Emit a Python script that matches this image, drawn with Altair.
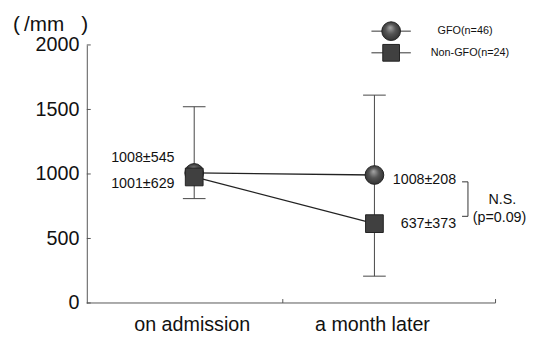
import altair as alt
import pandas as pd

# ---- data ----
categories = ["on admission", "a month later"]
cat_index = [0, 1]
gfo_mean = [1008, 992]
nongfo_mean = [977, 615]
err_upper = [1521, 1611]
err_lower = [809, 208]
gfo_labels = ["1008±545", "1008±208"]
nongfo_labels = ["1001±629", "637±373"]
y_ticks = [0, 500, 1000, 1500, 2000]

FONT = "Liberation Sans"
W, H = 415, 262

df = pd.DataFrame({
    "idx": cat_index,
    "cat": categories,
    "gfo": gfo_mean,
    "non": nongfo_mean,
    "hi": err_upper,
    "lo": err_lower,
    "gfo_lab": gfo_labels,
    "non_lab": nongfo_labels,
})
long = pd.concat([
    pd.DataFrame({"idx": cat_index, "v": gfo_mean, "g": "GFO"}),
    pd.DataFrame({"idx": cat_index, "v": nongfo_mean, "g": "Non-GFO"}),
])

xs = alt.Scale(domain=[-0.596, 1.672])
ys = alt.Scale(domain=[0, 2000])
X = alt.X("idx:Q", scale=xs, axis=None)

base = alt.Chart(df)

yaxis = alt.Chart(pd.DataFrame({"t": y_ticks})).mark_rule(color="#555", strokeWidth=1).encode(
    y=alt.Y("t:Q", scale=ys, axis=alt.Axis(values=y_ticks, format="d", ticks=False, grid=False, domain=True,
                                            domainColor="#555", labelFont=FONT, labelFontSize=20,
                                            labelColor="#111", labelPadding=8, title=None)),
    x=alt.value(0), x2=alt.value(4),
)

one = alt.Data(values=[{"a": 1}])
xaxis_line = alt.Chart(one).mark_rule(color="#555").encode(x=alt.value(0), x2=alt.value(W), y=alt.value(H))
xtick_mid = alt.Chart(one).mark_rule(color="#555").encode(x=alt.value(199), y=alt.value(H - 4), y2=alt.value(H))
xtick_end = alt.Chart(one).mark_rule(color="#555").encode(x=alt.value(W), y=alt.value(H - 4), y2=alt.value(H))

cat_labels = base.mark_text(font=FONT, fontSize=20, baseline="alphabetic", color="#111", dx=-2).encode(
    x=X, y=alt.value(290), text="cat:N")

errbar = base.mark_rule(color="#444", strokeWidth=1).encode(
    x=X, y=alt.Y("lo:Q", scale=ys), y2="hi:Q")
cap_shape = "M-1,0L1,0"
cap_hi = base.mark_point(shape=cap_shape, size=529, filled=False, stroke="#444", strokeWidth=1, opacity=1).encode(
    x=X, y=alt.Y("hi:Q", scale=ys))
cap_lo = base.mark_point(shape=cap_shape, size=529, filled=False, stroke="#444", strokeWidth=1, opacity=1).encode(
    x=X, y=alt.Y("lo:Q", scale=ys))

lines = alt.Chart(long).mark_line(color="#222", strokeWidth=1.3).encode(
    x=X, y=alt.Y("v:Q", scale=ys), detail="g:N")

grad = {
    "gradient": "radial",
    "x1": 0.45, "y1": 0.3, "r1": 0.0,
    "x2": 0.5, "y2": 0.5, "r2": 0.6,
    "stops": [
        {"offset": 0.0, "color": "#a8a8a8"},
        {"offset": 0.45, "color": "#555555"},
        {"offset": 1.0, "color": "#2a2a2a"},
    ],
}
circles = base.mark_point(shape="circle", size=361, filled=True, fill=grad, stroke="#222",
                          strokeWidth=1, opacity=1).encode(x=X, y=alt.Y("gfo:Q", scale=ys))
squares = base.mark_point(shape="square", size=324, filled=True, fill="#404040", stroke="#222",
                          strokeWidth=1, opacity=1).encode(x=X, y=alt.Y("non:Q", scale=ys))

def vlabel(idx, field, text_field, align, dx, dy):
    return base.transform_filter(alt.datum.idx == idx).mark_text(
        font=FONT, fontSize=14.5, align=align, baseline="middle", dx=dx, dy=dy, color="#111"
    ).encode(x=X, y=alt.Y(f"{field}:Q", scale=ys), text=f"{text_field}:N")

lab1 = vlabel(0, "gfo", "gfo_lab", "right", -20, -15)
lab2 = vlabel(0, "non", "non_lab", "right", -20, 7)
lab3 = vlabel(1, "gfo", "gfo_lab", "right", 83, 5)
lab4 = vlabel(1, "non", "non_lab", "right", 83, 0)

# significance bracket
br_v = alt.Chart(one).mark_rule(color="#333").encode(x=alt.value(387), y=alt.value(139), y2=alt.value(174))
br_t = alt.Chart(one).mark_rule(color="#333").encode(x=alt.value(381), x2=alt.value(387), y=alt.value(139))
br_b = alt.Chart(one).mark_rule(color="#333").encode(x=alt.value(381), x2=alt.value(387), y=alt.value(174))
ns_txt = alt.Chart(one).mark_text(font=FONT, fontSize=14.5, align="center", baseline="middle", color="#111").encode(
    x=alt.value(422), y=alt.value(157), text=alt.value("N.S."))
p_txt = alt.Chart(one).mark_text(font=FONT, fontSize=14.5, align="center", baseline="middle", color="#111").encode(
    x=alt.value(419), y=alt.value(176), text=alt.value("(p=0.09)"))

# unit title
unit = alt.Chart(one).mark_text(font=FONT, fontSize=21, align="left", baseline="alphabetic", color="#111").encode(
    x=alt.value(-75), y=alt.value(-14), text=alt.value("(\u2009/mm\u00a0\u00a0\u00a0)"))

# legend
leg_l1 = alt.Chart(one).mark_rule(color="#333").encode(x=alt.value(289), x2=alt.value(329), y=alt.value(-14))
leg_l2 = alt.Chart(one).mark_rule(color="#333").encode(x=alt.value(289), x2=alt.value(329), y=alt.value(8))
leg_c = alt.Chart(one).mark_point(shape="circle", size=361, filled=True, fill=grad, stroke="#222",
                                  strokeWidth=1, opacity=1).encode(x=alt.value(309), y=alt.value(-14))
leg_s = alt.Chart(one).mark_point(shape="square", size=289, filled=True, fill="#404040", stroke="#222",
                                  strokeWidth=1, opacity=1).encode(x=alt.value(309), y=alt.value(8))
leg_t1 = alt.Chart(one).mark_text(font=FONT, fontSize=11, align="center", baseline="middle", color="#111").encode(
    x=alt.value(384), y=alt.value(-14), text=alt.value("GFO(n=46)"))
leg_t2 = alt.Chart(one).mark_text(font=FONT, fontSize=11, align="center", baseline="middle", color="#111").encode(
    x=alt.value(389), y=alt.value(8), text=alt.value("Non-GFO(n=24)"))

chart = alt.layer(
    yaxis, xaxis_line, xtick_mid, xtick_end, cat_labels,
    errbar, cap_hi, cap_lo, lines, circles, squares,
    lab1, lab2, lab3, lab4,
    br_v, br_t, br_b, ns_txt, p_txt, unit,
    leg_l1, leg_l2, leg_c, leg_s, leg_t1, leg_t2,
).properties(
    width=W, height=H,
    padding={"left": 80, "top": 35, "right": 36, "bottom": 31},
    autosize=alt.AutoSizeParams(type="none"),
    background="white",
).configure_view(stroke=None)

chart.save("out.html", embed_options={"renderer": "svg", "actions": False})
